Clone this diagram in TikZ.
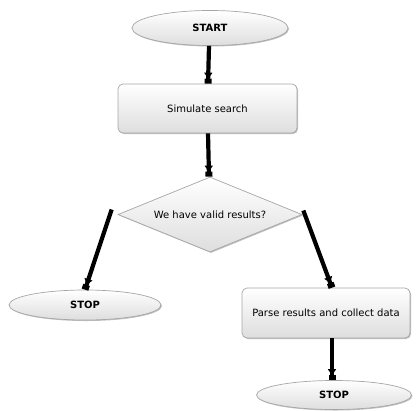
\documentclass[tikz,border=0pt]{standalone}
\usepackage{fontspec}
\setmainfont{DejaVu Sans}
\usetikzlibrary{shapes.geometric,arrows.meta,shadows,calc}
\begin{document}
\begin{tikzpicture}[x=1pt,y=-1pt,
  base/.style={draw=black!35, line width=0.7pt, top color=white, bottom color=black!13,
    inner sep=0pt, font=\fontsize{10}{12}\selectfont,
    drop shadow={shadow xshift=1pt, shadow yshift=-1pt, opacity=0.25, fill=black}},
  term/.style={base, ellipse, font=\fontsize{10}{12}\selectfont\bfseries},
  proc/.style={base, rectangle, rounded corners=5pt},
  dec/.style={base, diamond, shape aspect=2.45},
  conn/.style={line width=4.2pt, draw=black, line cap=butt,
    -{Triangle[width=8pt,length=6pt] Square[length=5pt,width=7pt]}}
]
\useasboundingbox (0,0) rectangle (419,410);
\node[term, minimum width=156pt, minimum height=35pt] (start) at (210,28) {START};
\node[proc, minimum width=179pt, minimum height=49pt] (sim) at (207.5,108.5) {Simulate search};
\node[dec, minimum width=184pt, minimum height=75pt] (dec) at (210,214.5) {We have valid results?};
\node[term, minimum width=152pt, minimum height=30pt] (stopL) at (85,305) {STOP};
\node[proc, minimum width=168pt, minimum height=50pt] (parse) at (326,313) {Parse results and collect data};
\node[term, minimum width=155pt, minimum height=29pt] (stopR) at (334,395) {STOP};

\coordinate (a1) at ($(start.south)+(-1,0)$);
\coordinate (b1) at ($(sim.north)+(0.5,0)$);
\coordinate (a2) at ($(sim.south)+(0.5,0)$);
\coordinate (b2) at ($(dec.north)+(-1,0)$);
\coordinate (a3) at ($(dec.west)+(-6,-5)$);
\coordinate (b3) at (stopL.north);
\coordinate (a4) at ($(dec.east)+(1,-4)$);
\coordinate (b4) at ($(parse.north)+(6,0)$);
\coordinate (a5) at ($(parse.south)+(6,0)$);
\coordinate (b5) at ($(stopR.north)+(-2,0)$);

\draw[conn] (a1) -- (b1);
\draw[conn] (a2) -- (b2);
\draw[conn] (a3) -- (b3);
\draw[conn] (a4) -- (b4);
\draw[conn] (a5) -- (b5);
\end{tikzpicture}
\end{document}
